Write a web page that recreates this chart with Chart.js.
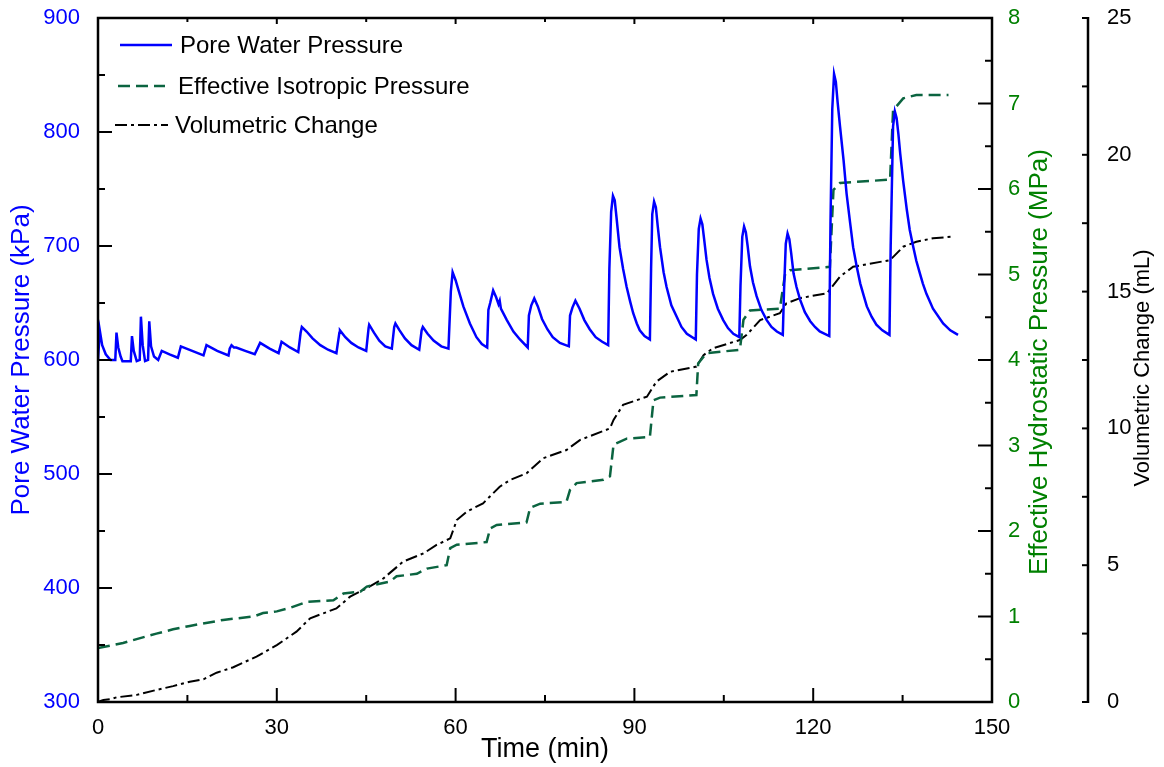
<!DOCTYPE html>
<html lang="en">
<head>
  <meta charset="UTF-8">
  <title>Pore Water Pressure / Effective Pressure / Volumetric Change</title>
  <script src="https://cdn.jsdelivr.net/npm/chart.js"></script>
  <style>
    body {
      margin: 0;
      padding: 0;
      background-color: #ffffff;
    }

    .chart-box {
      width: 1164px;
      height: 767px;
    }
  </style>
</head>
<body>
  <div class="chart-box">
    <canvas id="testChart" width="1164" height="767"></canvas>
  </div>

  <script>
    // Pore water pressure (kPa) vs time (min)
    const pwpTime = [0, 0.3, 0.7, 1.3, 2.1, 2.9, 3.1, 3.4, 3.8, 4.1, 5.5, 5.7, 6.0, 6.5, 7.0, 7.2, 7.5, 7.9, 8.4, 8.6, 8.9, 9.4, 10.1,
      10.7, 12.0, 13.4, 13.9, 15.8, 17.7, 18.2, 20.0, 21.9, 22.1, 22.4, 22.8, 23.2, 24.7, 26.3, 27.2, 28.8, 30.3, 30.8, 32.2, 33.6,
      34.0, 34.2, 35.0, 36.0, 37.3, 38.6, 40.0, 40.5, 40.6, 41.5, 42.5, 43.7, 45.0, 45.4, 45.5, 46.3, 47.2, 48.2, 49.3,
      49.7, 49.9, 50.6, 51.5, 52.6, 53.9, 54.3, 54.5, 55.3, 56.3, 57.6, 58.8,
      59.2, 59.5, 60.0, 60.5, 61.3, 62.4, 63.5, 64.4, 65.3,
      65.5, 65.8, 66.3, 66.8, 67.2, 67.4, 67.6, 68.6, 69.7, 70.8, 72.1,
      72.3, 72.7, 73.2, 73.8, 74.5, 75.4, 76.3, 77.5, 79.0,
      79.2, 79.6, 80.1, 80.8, 81.6, 82.5, 83.5, 84.6, 85.6,
      85.8, 86.1, 86.4, 86.7, 87.0, 87.5, 88.1, 88.7, 89.3, 89.8, 90.4, 90.9, 91.7, 92.6,
      92.8, 93.0, 93.3, 93.6, 93.9, 94.3, 94.9, 95.4, 96.2, 97.1, 97.9, 98.8, 100.3,
      100.5, 100.8, 101.1, 101.4, 101.7, 102.1, 102.6, 103.2, 104.0, 104.9, 105.7, 106.6, 107.6,
      107.8, 108.1, 108.4, 108.7, 109.0, 109.4, 109.9, 110.5, 111.3, 112.2, 113.0, 113.9, 114.9,
      115.1, 115.4, 115.7, 116.0, 116.3, 116.7, 117.2, 117.8, 118.6, 119.5, 120.3, 121.1, 122.7,
      122.9, 123.2, 123.5, 123.8, 124.1, 124.5, 125.1, 125.6, 126.2, 126.7, 127.3, 127.9, 128.5, 129.0, 129.8, 130.6, 131.6, 132.8,
      133.0, 133.4, 133.7, 134.0, 134.3, 134.6, 135.1, 135.7, 136.2, 136.8, 137.3, 137.9, 138.4, 139.0, 140.1, 141.8, 143.0, 144.3];
    const pwpKPa = [600, 626, 613, 605, 600, 600, 624, 611, 603, 599, 599, 621, 608, 599, 600, 638, 613, 599, 600, 634, 612, 603, 600,
      608, 605, 602, 612, 608, 604, 613, 608, 604, 610, 613, 611, 611, 608, 605, 615, 610, 606, 616, 611, 607,
      624, 629, 625, 619, 613, 609, 606, 624, 626, 620, 615, 611, 608, 628, 631, 624, 617, 612, 610,
      629, 632, 626, 619, 613, 609, 626, 629, 623, 617, 612, 610,
      660, 677, 670, 661, 647, 632, 620, 614, 611,
      644, 650, 661, 655, 649, 652, 645, 635, 625, 618, 611,
      639, 648, 654, 647, 636, 627, 620, 615, 612,
      639, 646, 652, 645, 635, 627, 620, 616, 613,
      680, 730, 744, 740, 725, 699, 680, 664, 651, 641, 632, 626, 621, 618,
      680, 728, 739, 734, 718, 699, 677, 664, 648, 638, 629, 623, 618,
      675, 715, 724, 719, 706, 688, 672, 658, 645, 635, 628, 623, 620,
      665, 708, 717, 712, 700, 682, 668, 656, 644, 635, 629, 625, 622,
      660, 702, 711, 706, 694, 676, 664, 653, 642, 634, 629, 625, 621,
      720, 820, 851, 844, 826, 805, 775, 746, 720, 699, 682, 667, 656, 647, 638, 631, 626, 622,
      700, 805, 818, 812, 798, 781, 757, 732, 714, 699, 687, 676, 667, 658, 645, 632, 626, 622];

    // Effective isotropic pressure (MPa)
    const eipTime = [0, 4.2, 9.8, 12.6, 15.4, 21.0, 26.1, 27.7, 30.0, 32.2, 35.0, 39.5, 41.2, 44.0, 45.1, 49.0, 50.1, 53.5, 55.2,
      58.5, 59.1, 60.2, 65.2, 65.8, 66.9, 71.9, 72.5, 74.2, 78.6, 79.2, 80.3, 84.8, 85.9, 86.5, 88.7, 92.6, 93.2, 94.3,
      100.4, 100.7, 102.1, 107.7, 108.3, 109.4, 114.4, 115.3, 116.1, 122.8, 123.4, 124.5, 132.9, 133.4, 135.1, 137.3, 142.7];
    const eipMPa = [0.63, 0.69, 0.80, 0.85, 0.89, 0.96, 1.00, 1.04, 1.06, 1.10, 1.17, 1.19, 1.27, 1.29, 1.35, 1.41, 1.47, 1.50, 1.56,
      1.60, 1.80, 1.84, 1.87, 2.03, 2.07, 2.10, 2.27, 2.32, 2.34, 2.48, 2.56, 2.60, 2.64, 3.01, 3.08, 3.10, 3.53, 3.56,
      3.59, 3.96, 4.08, 4.12, 4.47, 4.58, 4.60, 5.01, 5.05, 5.09, 5.99, 6.07, 6.11, 6.92, 7.06, 7.10, 7.10];

    // Volumetric change (mL)
    const volTime = [0, 0.9, 2.0, 3.1, 6.5, 9.8, 12.6, 15.4, 17.7, 19.9, 22.7, 26.6, 30.0, 33.3, 35.6, 37.8, 40.0, 42.3, 45.1,
      47.9, 51.2, 54.6, 56.8, 59.1, 60.2, 61.9, 64.6, 67.4, 69.1, 71.9, 74.7, 78.6, 80.9, 85.9, 86.5, 88.1, 92.1, 93.7,
      96.0, 100.4, 101.6, 103.2, 107.7, 108.8, 111.1, 114.4, 115.5, 117.8, 122.3, 124.5, 126.7, 132.9, 135.1, 137.3, 140.1, 143.5];
    const volML = [0.01, 0.07, 0.10, 0.17, 0.26, 0.44, 0.58, 0.74, 0.83, 1.07, 1.27, 1.66, 2.08, 2.57, 3.06, 3.24, 3.42, 3.85, 4.16,
      4.52, 5.13, 5.43, 5.74, 5.98, 6.65, 6.96, 7.26, 7.87, 8.11, 8.36, 8.91, 9.21, 9.58, 10.0, 10.31, 10.86, 11.16, 11.71,
      12.07, 12.26, 12.68, 12.93, 13.23, 13.41, 13.96, 14.21, 14.57, 14.76, 14.94, 15.55, 15.91, 16.15, 16.64, 16.82, 16.95, 17.01];

    // Tick labels
    const timeTicks = [0, 30, 60, 90, 120, 150];
    const pwpTicks = [300, 400, 500, 600, 700, 800, 900];
    const eipTicks = [0, 1, 2, 3, 4, 5, 6, 7, 8];
    const volTicks = [0, 5, 10, 15, 20, 25];

    const FONT = 'Liberation Sans, Arial, sans-serif';
    const BLUE = '#0000ff';
    const GREEN = '#008000';
    const DARK_GREEN = '#0b6440';

    const toPoints = (xs, ys) => xs.map((t, i) => ({ x: t, y: ys[i] }));
    const setTicks = list => scale => { scale.ticks = list.map(v => ({ value: v })); };
    // fixed axis width, and no extra room above/below for the end labels
    const fixWidth = w => scale => {
      scale.width = w;
      scale.paddingTop = 0;
      scale.paddingBottom = 0;
    };

    // inward ticks, frame, far-right axis line, right-hand titles and legend
    const framePlugin = {
      id: 'framePlugin',
      afterDraw(chart) {
        const { ctx, chartArea: a, scales } = chart;
        const line = (x1, y1, x2, y2) => {
          ctx.beginPath();
          ctx.moveTo(x1, y1);
          ctx.lineTo(x2, y2);
          ctx.stroke();
        };
        // majors plus the halfway minors
        const withMinors = list => {
          const out = [];
          list.forEach((v, i) => {
            out.push({ v: v, major: true });
            if (i < list.length - 1) out.push({ v: (v + list[i + 1]) / 2, major: false });
          });
          return out;
        };

        ctx.save();
        ctx.strokeStyle = '#000';
        ctx.lineWidth = 2;

        withMinors(timeTicks).forEach(t => {
          const px = scales.x.getPixelForValue(t.v);
          line(px, a.bottom, px, a.bottom - (t.major ? 14 : 7));
          line(px, a.top, px, a.top + (t.major ? 6 : 4));
        });
        withMinors(pwpTicks).forEach(t => {
          const py = scales.y.getPixelForValue(t.v);
          line(a.left, py, a.left + (t.major ? 14 : 7), py);
        });
        withMinors(eipTicks).forEach(t => {
          const py = scales.y2.getPixelForValue(t.v);
          line(a.right, py, a.right - (t.major ? 14 : 7), py);
        });

        // far right axis
        const ax = scales.y3.left;
        withMinors(volTicks).forEach(t => {
          const py = scales.y3.getPixelForValue(t.v);
          line(ax, py, ax - 6, py);
        });
        ctx.lineWidth = 2.5;
        line(ax, scales.y3.getPixelForValue(0) + 1, ax, scales.y3.getPixelForValue(25) - 1);
        ctx.strokeRect(a.left, a.top, a.right - a.left, a.bottom - a.top);

        // right-hand axis titles, reading bottom to top
        const midY = (a.top + a.bottom) / 2;
        ctx.textAlign = 'center';
        ctx.textBaseline = 'middle';
        ctx.fillStyle = GREEN;
        ctx.font = '26px ' + FONT;
        ctx.translate(1040, midY + 2);
        ctx.rotate(-Math.PI / 2);
        ctx.fillText('Effective Hydrostatic Pressure (MPa)', 0, 0);
        ctx.setTransform(1, 0, 0, 1, 0, 0);
        ctx.fillStyle = '#000';
        ctx.font = '22px ' + FONT;
        ctx.translate(1143, midY + 8);
        ctx.rotate(-Math.PI / 2);
        ctx.fillText('Volumetric Change (mL)', 0, 0);
        ctx.setTransform(1, 0, 0, 1, 0, 0);

        // legend
        const rows = [
          { y: 45, x1: 120, x2: 172, tx: 180 },
          { y: 86, x1: 118, x2: 165, tx: 178 },
          { y: 125, x1: 115, x2: 168, tx: 175 }
        ];
        ctx.textAlign = 'left';
        ctx.font = '24px ' + FONT;
        chart.data.datasets.forEach((ds, i) => {
          const r = rows[i];
          ctx.strokeStyle = ds.borderColor;
          ctx.lineWidth = ds.borderWidth;
          ctx.setLineDash(ds.borderDash || []);
          line(r.x1, r.y, r.x2, r.y);
          ctx.setLineDash([]);
          ctx.fillStyle = '#000';
          ctx.fillText(ds.label, r.tx, r.y + 1);
        });
        ctx.restore();
      }
    };

    const config = {
      type: 'line',
      data: {
        datasets: [{
          label: 'Pore Water Pressure',
          data: toPoints(pwpTime, pwpKPa),
          yAxisID: 'y',
          borderColor: BLUE,
          borderWidth: 2.5,
          pointRadius: 0,
          tension: 0
        }, {
          label: 'Effective Isotropic Pressure',
          data: toPoints(eipTime, eipMPa),
          yAxisID: 'y2',
          borderColor: DARK_GREEN,
          borderWidth: 2.5,
          borderDash: [12, 6],
          pointRadius: 0,
          tension: 0
        }, {
          label: 'Volumetric Change',
          data: toPoints(volTime, volML),
          yAxisID: 'y3',
          borderColor: '#000',
          borderWidth: 2,
          borderDash: [12, 4, 3, 4],
          pointRadius: 0,
          tension: 0
        }]
      },
      options: {
        responsive: false,
        animation: false,
        events: [],
        layout: { padding: { top: 18, left: 0, right: 0, bottom: 0 } },
        plugins: {
          legend: { display: false },
          tooltip: { enabled: false }
        },
        scales: {
          x: {
            type: 'linear',
            position: 'bottom',
            min: 0,
            max: 150,
            afterBuildTicks: setTicks(timeTicks),
            afterFit: s => { s.height = 65; },
            grid: { display: false, drawTicks: false },
            border: { display: false },
            ticks: { color: '#000', font: { family: FONT, size: 22 }, padding: 13, maxRotation: 0, autoSkip: false },
            title: { display: true, text: 'Time (min)', color: '#000', font: { family: FONT, size: 27 }, padding: { top: 0, bottom: 1 } }
          },
          y: {
            type: 'linear',
            position: 'left',
            min: 300,
            max: 900,
            afterBuildTicks: setTicks(pwpTicks),
            afterFit: fixWidth(98),
            grid: { display: false, drawTicks: false },
            border: { display: false },
            ticks: { color: BLUE, font: { family: FONT, size: 22 }, padding: 18 },
            title: { display: true, text: 'Pore Water Pressure (kPa)', color: BLUE, font: { family: FONT, size: 26 }, padding: { top: 6, bottom: 0 } }
          },
          y2: {
            type: 'linear',
            position: 'right',
            weight: 0,
            min: 0,
            max: 8,
            afterBuildTicks: setTicks(eipTicks),
            afterFit: fixWidth(96),
            grid: { display: false, drawTicks: false },
            border: { display: false },
            ticks: { color: GREEN, font: { family: FONT, size: 22 }, padding: 16 }
          },
          y3: {
            type: 'linear',
            position: 'right',
            weight: 1,
            min: 0,
            max: 25,
            afterBuildTicks: setTicks(volTicks),
            afterFit: fixWidth(76),
            grid: { display: false, drawTicks: false },
            border: { display: false },
            ticks: { color: '#000', font: { family: FONT, size: 22 }, padding: 19 }
          }
        }
      },
      plugins: [framePlugin]
    };

    const testChart = new Chart(document.getElementById('testChart'), config);
  </script>
</body>
</html>
